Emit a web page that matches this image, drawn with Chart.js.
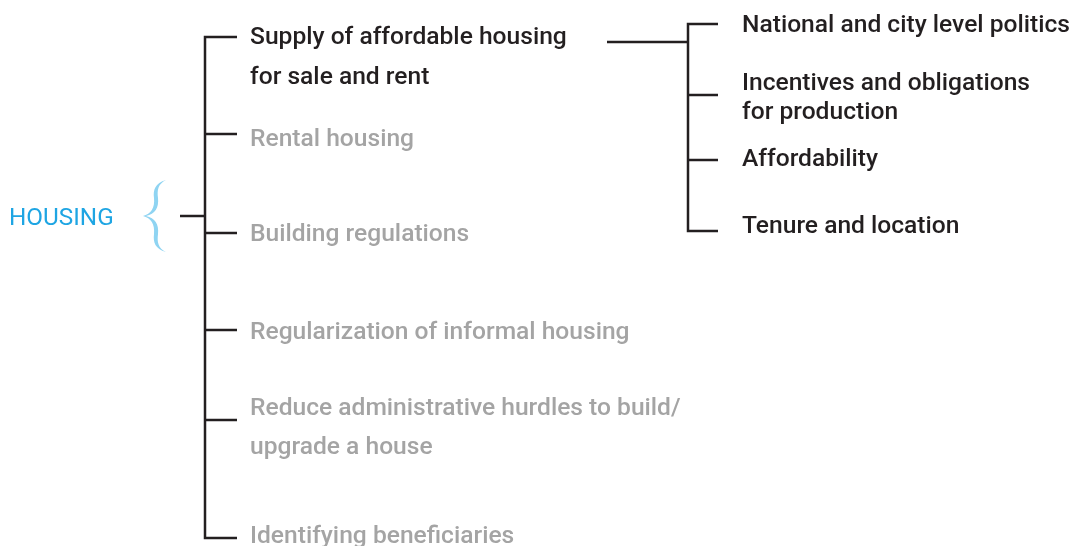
<!DOCTYPE html>
<html>
<head>
<meta charset="utf-8">
<script src="https://cdn.jsdelivr.net/npm/chart.js@4"></script>
<style>
  body { margin: 0; background: #fff; }
  canvas { display: block; }
</style>
</head>
<body>
<canvas id="arbol" width="1074" height="546"></canvas>
<script>
// tree data: root, first level (with its row positions), second level of the first branch
const rootLabel = "HOUSING";
const rootY = 216;

const level1Labels = [
  ["Supply of affordable housing", "for sale and rent"],
  ["Rental housing"],
  ["Building regulations"],
  ["Regularization of informal housing"],
  ["Reduce administrative hurdles to build/", "upgrade a house"],
  ["Identifying beneficiaries"]
];
const level1Y = [37, 134, 233, 330, 420, 538];
const level1Active = [true, false, false, false, false, false];

const level2Labels = [
  ["National and city level politics"],
  ["Incentives and obligations", "for production"],
  ["Affordability"],
  ["Tenure and location"]
];
const level2Y = [24, 95, 160, 231];
const level2ParentY = 42;

// layout
const TRUNK1 = 205, STUB1 = 180, BR1 = 237, TXT1 = 250;
const FROM2 = 607, TRUNK2 = 688, BR2 = 718, TXT2 = 742;
const DARK = "#231f20", GREY = "#a4a4a4", BLUE = "#1ea5e3", BRACE = "#8fd4f2";

function seg(points) {
  return {
    data: points.map(p => ({ x: p[0], y: p[1] })),
    showLine: true,
    borderColor: DARK,
    borderWidth: 2.5,
    pointRadius: 0,
    borderJoinStyle: "miter",
    tension: 0
  };
}

const datasets = [];
// first level: L-shaped ends + middle branches + stub to root
const n1 = level1Y.length;
datasets.push(seg([[BR1, level1Y[0]], [TRUNK1, level1Y[0]], [TRUNK1, level1Y[n1 - 1]], [BR1, level1Y[n1 - 1]]]));
for (let i = 1; i < n1 - 1; i++) datasets.push(seg([[TRUNK1, level1Y[i]], [BR1, level1Y[i]]]));
datasets.push(seg([[STUB1, rootY], [TRUNK1, rootY]]));
// second level
const n2 = level2Y.length;
datasets.push(seg([[FROM2, level2ParentY], [TRUNK2, level2ParentY]]));
datasets.push(seg([[BR2, level2Y[0]], [TRUNK2, level2Y[0]], [TRUNK2, level2Y[n2 - 1]], [BR2, level2Y[n2 - 1]]]));
for (let i = 1; i < n2 - 1; i++) datasets.push(seg([[TRUNK2, level2Y[i]], [BR2, level2Y[i]]]));

const level1Offsets = [[1, 41], [6], [2], [3], [-11, 28], [-1]];
const level2Offsets = [[2], [-11, 18], [0], [-4]];

const textPlugin = {
  id: "textos",
  afterDatasetsDraw(chart) {
    const c = chart.ctx, xs = chart.scales.x, ys = chart.scales.y;
    c.save();
    c.textBaseline = "middle";
    c.textAlign = "left";

    c.font = "400 24.3px Roboto";
    c.fillStyle = BLUE;
    c.fillText(rootLabel, xs.getPixelForValue(9), ys.getPixelForValue(rootY + 3));

    // brace
    const bx = xs.getPixelForValue(143), by = ys.getPixelForValue(rootY);
    c.fillStyle = BRACE;
    c.beginPath();
    c.moveTo(bx + 23, by - 36);
    c.bezierCurveTo(bx + 12, by - 33, bx + 10, by - 26, bx + 11, by - 18);
    c.bezierCurveTo(bx + 12, by - 8, bx + 8, by - 2, bx, by);
    c.bezierCurveTo(bx + 8, by + 2, bx + 12, by + 8, bx + 11, by + 18);
    c.bezierCurveTo(bx + 10, by + 26, bx + 12, by + 33, bx + 23, by + 36);
    c.bezierCurveTo(bx + 15, by + 32, bx + 14, by + 26, bx + 15, by + 18);
    c.bezierCurveTo(bx + 16, by + 8, bx + 12, by + 2, bx + 3, by);
    c.bezierCurveTo(bx + 12, by - 2, bx + 16, by - 8, bx + 15, by - 18);
    c.bezierCurveTo(bx + 14, by - 26, bx + 15, by - 32, bx + 23, by - 36);
    c.closePath();
    c.fill();

    c.font = "500 24.6px Roboto";
    level1Labels.forEach((lines, i) => {
      c.fillStyle = level1Active[i] ? DARK : GREY;
      lines.forEach((t, j) => {
        c.fillText(t, xs.getPixelForValue(TXT1), ys.getPixelForValue(level1Y[i] + level1Offsets[i][j]));
      });
    });
    c.fillStyle = DARK;
    level2Labels.forEach((lines, i) => {
      lines.forEach((t, j) => {
        c.fillText(t, xs.getPixelForValue(TXT2), ys.getPixelForValue(level2Y[i] + level2Offsets[i][j]));
      });
    });
    c.restore();
  }
};

new Chart(document.getElementById("arbol"), {
  type: "scatter",
  data: { datasets },
  options: {
    responsive: false,
    animation: false,
    layout: { padding: 0 },
    plugins: { legend: { display: false }, tooltip: { enabled: false } },
    scales: {
      x: { display: false, min: 0, max: 1074 },
      y: { display: false, min: 0, max: 546, reverse: true }
    }
  },
  plugins: [textPlugin]
});
</script>
</body>
</html>
